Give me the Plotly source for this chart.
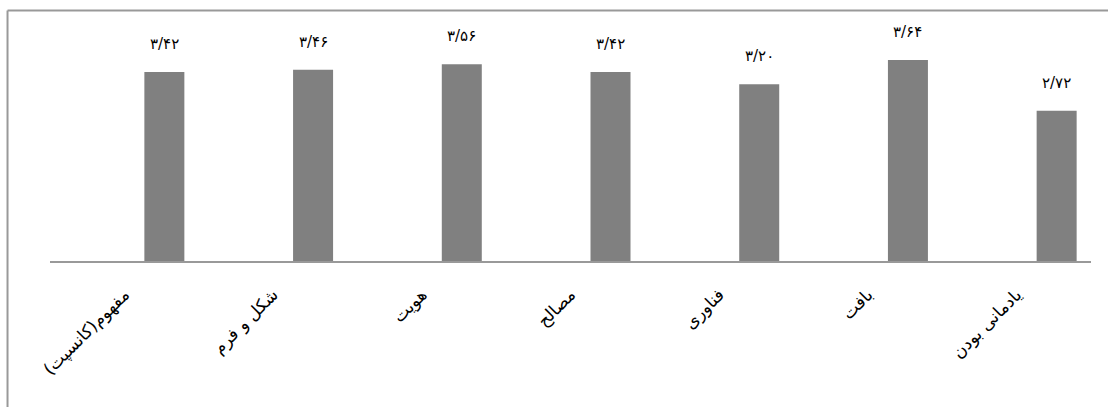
import plotly.graph_objects as go

categories = ["مفهوم(کانسپت)", "شکل و فرم", "هویت", "مصالح", "فناوری", "بافت", "یادمانی بودن"]
values = [3.42, 3.46, 3.56, 3.42, 3.20, 3.64, 2.72]
value_labels = ["۳/۴۲", "۳/۴۶", "۳/۵۶", "۳/۴۲", "۳/۲۰", "۳/۶۴", "۲/۷۲"]

FONT = "DejaVu Sans"

fig = go.Figure()
fig.add_trace(go.Bar(
    x=categories, y=values,
    marker=dict(color="#808080", line=dict(width=0)),
    width=0.269, offset=0.1345,
    hoverinfo="x+y",
))

for c, v, t in zip(categories, values, value_labels):
    fig.add_annotation(x=c, y=v, text=t, showarrow=False, xshift=40, yshift=17,
                       yanchor="bottom", font=dict(family=FONT, size=15, color="#000"))

# outer chart border (left and top edges visible)
fig.add_shape(type="line", xref="paper", yref="paper", x0=-0.0408, x1=1.03, y0=1.1335, y1=1.1335,
              line=dict(color="#999999", width=2))
fig.add_shape(type="line", xref="paper", yref="paper", x0=-0.0408, x1=-0.0408, y0=1.1335, y1=-0.8,
              line=dict(color="#999999", width=2))

fig.update_layout(
    width=1108, height=407,
    margin=dict(l=50, r=17, t=40, b=146),
    paper_bgcolor="white", plot_bgcolor="white",
    showlegend=False,
    font=dict(family=FONT, size=16, color="#000"),
    xaxis=dict(type="category", tickangle=-45, showline=True, linecolor="#999999", linewidth=2,
               ticks="", showgrid=False, ticklabelstandoff=15,
               tickfont=dict(family=FONT, size=17, color="#000")),
    yaxis=dict(range=[0, 4], visible=False, showgrid=False),
)

fig.write_html("out.html", config={"displayModeBar": False},
               post_script="document.body.style.margin='0px';document.body.style.overflow='hidden';")
